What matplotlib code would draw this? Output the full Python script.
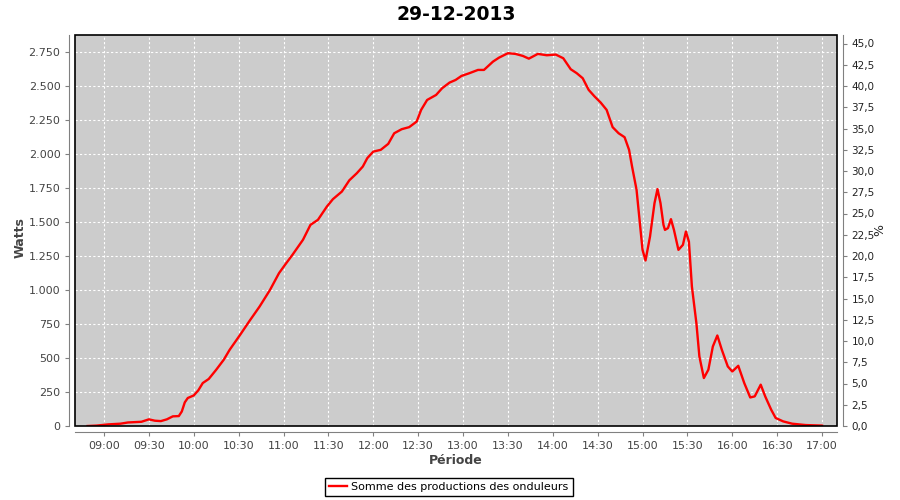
import matplotlib
matplotlib.use("Agg")
import matplotlib.pyplot as plt
import matplotlib.dates as mdates
import matplotlib.ticker as mticker
from matplotlib.patches import Rectangle
import pandas as pd

title = "29-12-2013"
series_name = "Somme des productions des onduleurs"

times = ["08:49", "08:55", "09:03", "09:11", "09:16", "09:25", "09:30", "09:34", "09:38", "09:42",
         "09:46", "09:50", "09:52", "09:54", "09:56", "10:00", "10:03", "10:06", "10:10", "10:15",
         "10:20", "10:24", "10:31", "10:37", "10:44", "10:51", "10:57", "11:01", "11:06", "11:13",
         "11:18", "11:23", "11:29", "11:33", "11:39", "11:44", "11:49", "11:53", "11:56", "12:00",
         "12:05", "12:10", "12:14", "12:19", "12:24", "12:29", "12:32", "12:36", "12:42", "12:46",
         "12:51", "12:55", "12:59", "13:04", "13:10", "13:14", "13:20", "13:24", "13:30", "13:35",
         "13:40", "13:44", "13:50", "13:56", "14:02", "14:07", "14:12", "14:16", "14:20", "14:24",
         "14:28", "14:32", "14:36", "14:40", "14:44", "14:48", "14:51", "14:53", "14:56", "14:58",
         "15:00", "15:02", "15:05", "15:08", "15:10", "15:12", "15:14", "15:15", "15:17", "15:19",
         "15:21", "15:24", "15:27", "15:29", "15:31", "15:33", "15:36", "15:38", "15:41", "15:44",
         "15:47", "15:50", "15:53", "15:57", "16:00", "16:04", "16:08", "16:12", "16:15", "16:19",
         "16:22", "16:26", "16:29", "16:34", "16:40", "16:49", "17:00"]
watts = [0, 3, 12, 17, 26, 31, 49, 39, 36, 49,
         71, 73, 107, 174, 206, 225, 262, 316, 346, 414,
         487, 561, 671, 769, 879, 1002, 1125, 1186, 1260, 1370,
         1480, 1517, 1615, 1669, 1725, 1808, 1860, 1909, 1971, 2019,
         2032, 2076, 2154, 2184, 2199, 2240, 2326, 2399, 2436, 2485,
         2527, 2546, 2576, 2595, 2620, 2620, 2681, 2710, 2743, 2738,
         2723, 2703, 2738, 2728, 2733, 2706, 2625, 2596, 2559, 2473,
         2424, 2380, 2326, 2199, 2154, 2125, 2032, 1909, 1738, 1517,
         1296, 1218, 1394, 1640, 1743, 1640, 1480, 1443, 1456, 1522,
         1443, 1296, 1333, 1431, 1357, 1026, 757, 512, 353, 414,
         585, 666, 561, 438, 401, 443, 316, 210, 218, 304,
         218, 120, 59, 34, 17, 7, 3]

watt_ticks = list(range(0, 2751, 250))
pct_ticks = [i * 2.5 for i in range(19)]

day = "2013-12-29 "
t = pd.to_datetime([day + s for s in times])

grey_axis = "#808080"
label_col = "#444444"

fig = plt.figure(figsize=(9, 5), dpi=100)
ax = fig.add_axes([75 / 900, 74 / 500, 762 / 900, 391 / 500])
ax.set_facecolor("#CCCCCC")

ax.plot(t, watts, color="#FF0000", lw=1.7, label=series_name, zorder=3)

ax.set_ylim(0, 2877)
ax.set_yticks(watt_ticks)
ax.yaxis.set_major_formatter(mticker.FuncFormatter(lambda v, p: f"{int(round(v)):,}".replace(",", ".")))
ax.set_xlim(pd.Timestamp(day + "08:40:36"), pd.Timestamp(day + "17:10:00"))
ax.xaxis.set_major_locator(mdates.MinuteLocator(byminute=[0, 30]))
ax.xaxis.set_major_formatter(mdates.DateFormatter("%H:%M"))

ax.grid(True, color="white", linestyle=(0, (2, 2)), linewidth=0.8)
ax.set_axisbelow(True)

for side in ["left", "bottom"]:
    ax.spines[side].set_position(("outward", 4))
    ax.spines[side].set_color(grey_axis)
ax.spines["top"].set_visible(False)
ax.spines["right"].set_visible(False)
ax.tick_params(axis="both", colors=grey_axis, labelcolor=label_col, labelsize=8, length=3, width=0.8)

ax2 = ax.twinx()
ax2.set_ylim(0, 46.0)
ax2.set_yticks(pct_ticks)
ax2.yaxis.set_major_formatter(mticker.FuncFormatter(lambda v, p: f"{v:.1f}".replace(".", ",")))
for side in ["left", "bottom", "top"]:
    ax2.spines[side].set_visible(False)
ax2.spines["right"].set_position(("outward", 4))
ax2.spines["right"].set_color(grey_axis)
ax2.tick_params(axis="y", colors=grey_axis, labelcolor="#222222", labelsize=7.5, length=3, width=0.8)

ax2.add_patch(Rectangle((0, 0), 1, 1, transform=ax2.transAxes, fill=False,
                        edgecolor="black", linewidth=1.2, clip_on=False, zorder=10))

fig.text(456 / 900, 1 - 14 / 500, title, ha="center", va="center", fontsize=13.5, fontweight="bold")
fig.text(20 / 900, 1 - 238 / 500, "Watts", ha="center", va="center", rotation=90,
         fontsize=9, fontweight="bold", color=label_col)
fig.text(880 / 900, 1 - 230 / 500, "%", ha="center", va="center", rotation=90,
         fontsize=9, color="#222222")
fig.text(456 / 900, 1 - 460 / 500, "Période", ha="center", va="center",
         fontsize=9, fontweight="bold", color=label_col)

leg = fig.legend(loc="center", bbox_to_anchor=(449 / 900, 1 - 487 / 500), fontsize=8,
                 frameon=True, fancybox=False, edgecolor="black", framealpha=1,
                 handlelength=1.6, handletextpad=0.4, borderpad=0.35)
leg.get_frame().set_linewidth(1.0)

fig.savefig("out.png", dpi=100)
